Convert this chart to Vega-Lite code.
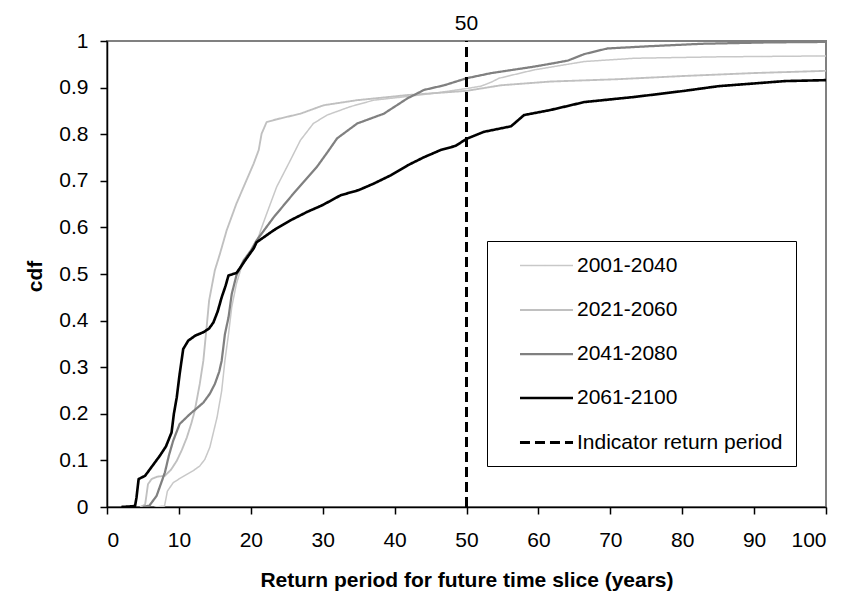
{
  "$schema": "https://vega.github.io/schema/vega-lite/v6.json",
  "description": "CDF of return period for future time slices",
  "autosize": {"type": "none"},
  "padding": {"left": 107, "top": 41, "right": 19, "bottom": 94},
  "width": 719,
  "height": 466,
  "background": "white",
  "config": {
    "font": "Liberation Sans",
    "view": {"stroke": "#808080", "strokeWidth": 2},
    "axis": {
      "grid": false,
      "domainColor": "black",
      "domainWidth": 1.5,
      "tickColor": "black",
      "tickWidth": 1.5,
      "tickSize": 7,
      "labelFontSize": 21,
      "labelColor": "black",
      "titleFontSize": 21,
      "titleFontWeight": "bold",
      "titleColor": "black"
    },
    "legend": {
      "orient": "none",
      "legendX": 380,
      "legendY": 200,
      "strokeColor": "black",
      "fillColor": "white",
      "padding": 13,
      "symbolType": "M-2.5,0H2.5",
      "symbolSize": 450,
      "symbolOffset": 34,
      "labelOffset": 18,
      "labelFontSize": 21,
      "labelColor": "black",
      "labelLimit": 400,
      "rowPadding": 22
    }
  },
  "encoding": {
    "x": {
      "field": "x",
      "type": "quantitative",
      "scale": {"domain": [0, 100], "nice": false},
      "axis": {
        "values": [0, 10, 20, 30, 40, 50, 60, 70, 80, 90, 100],
        "labelPadding": 15,
        "title": "Return period for future time slice (years)",
        "titleY": 79,
        "titleBaseline": "alphabetic"
      }
    },
    "y": {
      "field": "y",
      "type": "quantitative",
      "scale": {"domain": [0, 1], "nice": false},
      "axis": {
        "values": [0, 0.1, 0.2, 0.3, 0.4, 0.5, 0.6, 0.7, 0.8, 0.9, 1],
        "format": "~g",
        "labelPadding": 12,
        "title": "cdf",
        "titleX": -66,
        "titleY": 235,
        "titleBaseline": "alphabetic"
      }
    }
  },
  "layer": [
    {
      "data": {
        "values": [
          {"s": "2001-2040", "x": 6.6, "y": 0},
          {"s": "2001-2040", "x": 8.0, "y": 0.002},
          {"s": "2001-2040", "x": 8.4, "y": 0.034},
          {"s": "2001-2040", "x": 9.2, "y": 0.052},
          {"s": "2001-2040", "x": 10.2, "y": 0.062},
          {"s": "2001-2040", "x": 11.1, "y": 0.07},
          {"s": "2001-2040", "x": 12.0, "y": 0.078},
          {"s": "2001-2040", "x": 12.9, "y": 0.088},
          {"s": "2001-2040", "x": 13.6, "y": 0.102},
          {"s": "2001-2040", "x": 14.3, "y": 0.128},
          {"s": "2001-2040", "x": 14.8, "y": 0.16},
          {"s": "2001-2040", "x": 15.3, "y": 0.192},
          {"s": "2001-2040", "x": 15.95, "y": 0.249},
          {"s": "2001-2040", "x": 16.4, "y": 0.314},
          {"s": "2001-2040", "x": 16.9, "y": 0.371},
          {"s": "2001-2040", "x": 17.35, "y": 0.429},
          {"s": "2001-2040", "x": 18.0, "y": 0.479},
          {"s": "2001-2040", "x": 18.7, "y": 0.515},
          {"s": "2001-2040", "x": 19.5, "y": 0.535},
          {"s": "2001-2040", "x": 20.6, "y": 0.558},
          {"s": "2001-2040", "x": 21.4, "y": 0.595},
          {"s": "2001-2040", "x": 22.2, "y": 0.629},
          {"s": "2001-2040", "x": 23.6, "y": 0.687},
          {"s": "2001-2040", "x": 25.5, "y": 0.744},
          {"s": "2001-2040", "x": 26.9, "y": 0.787},
          {"s": "2001-2040", "x": 28.7, "y": 0.823},
          {"s": "2001-2040", "x": 30.6, "y": 0.841},
          {"s": "2001-2040", "x": 33.8, "y": 0.859},
          {"s": "2001-2040", "x": 37.1, "y": 0.873},
          {"s": "2001-2040", "x": 41.8, "y": 0.881},
          {"s": "2001-2040", "x": 46.0, "y": 0.889},
          {"s": "2001-2040", "x": 50.0, "y": 0.898},
          {"s": "2001-2040", "x": 52.0, "y": 0.903},
          {"s": "2001-2040", "x": 53.5, "y": 0.912},
          {"s": "2001-2040", "x": 54.5, "y": 0.92},
          {"s": "2001-2040", "x": 59.4, "y": 0.938},
          {"s": "2001-2040", "x": 66.4, "y": 0.956},
          {"s": "2001-2040", "x": 73.4, "y": 0.963},
          {"s": "2001-2040", "x": 85.0, "y": 0.966},
          {"s": "2001-2040", "x": 100, "y": 0.968},

          {"s": "2021-2060", "x": 4.6, "y": 0},
          {"s": "2021-2060", "x": 5.3, "y": 0.005},
          {"s": "2021-2060", "x": 5.7, "y": 0.049},
          {"s": "2021-2060", "x": 6.2, "y": 0.06},
          {"s": "2021-2060", "x": 7.0, "y": 0.065},
          {"s": "2021-2060", "x": 8.05, "y": 0.067},
          {"s": "2021-2060", "x": 8.9, "y": 0.08},
          {"s": "2021-2060", "x": 9.7, "y": 0.099},
          {"s": "2021-2060", "x": 10.4, "y": 0.122},
          {"s": "2021-2060", "x": 11.1, "y": 0.149},
          {"s": "2021-2060", "x": 11.7, "y": 0.178},
          {"s": "2021-2060", "x": 12.2, "y": 0.206},
          {"s": "2021-2060", "x": 12.9, "y": 0.264},
          {"s": "2021-2060", "x": 13.4, "y": 0.314},
          {"s": "2021-2060", "x": 13.9, "y": 0.393},
          {"s": "2021-2060", "x": 14.2, "y": 0.443},
          {"s": "2021-2060", "x": 15.0, "y": 0.508},
          {"s": "2021-2060", "x": 15.7, "y": 0.543},
          {"s": "2021-2060", "x": 16.65, "y": 0.594},
          {"s": "2021-2060", "x": 18.0, "y": 0.651},
          {"s": "2021-2060", "x": 19.2, "y": 0.694},
          {"s": "2021-2060", "x": 20.4, "y": 0.737},
          {"s": "2021-2060", "x": 21.1, "y": 0.766},
          {"s": "2021-2060", "x": 21.5, "y": 0.801},
          {"s": "2021-2060", "x": 22.2, "y": 0.826},
          {"s": "2021-2060", "x": 23.6, "y": 0.832},
          {"s": "2021-2060", "x": 26.9, "y": 0.844},
          {"s": "2021-2060", "x": 30.1, "y": 0.862},
          {"s": "2021-2060", "x": 34.8, "y": 0.873},
          {"s": "2021-2060", "x": 41.8, "y": 0.884},
          {"s": "2021-2060", "x": 50.0, "y": 0.893},
          {"s": "2021-2060", "x": 54.8, "y": 0.905},
          {"s": "2021-2060", "x": 61.7, "y": 0.913},
          {"s": "2021-2060", "x": 71.0, "y": 0.918},
          {"s": "2021-2060", "x": 80.3, "y": 0.925},
          {"s": "2021-2060", "x": 89.6, "y": 0.931},
          {"s": "2021-2060", "x": 100, "y": 0.936},

          {"s": "2041-2080", "x": 5.0, "y": 0},
          {"s": "2041-2080", "x": 5.9, "y": 0.003},
          {"s": "2041-2080", "x": 6.9, "y": 0.024},
          {"s": "2041-2080", "x": 7.5, "y": 0.05},
          {"s": "2041-2080", "x": 8.05, "y": 0.074},
          {"s": "2041-2080", "x": 8.6, "y": 0.11},
          {"s": "2041-2080", "x": 9.2, "y": 0.142},
          {"s": "2041-2080", "x": 10.1, "y": 0.178},
          {"s": "2041-2080", "x": 11.5, "y": 0.199},
          {"s": "2041-2080", "x": 12.5, "y": 0.212},
          {"s": "2041-2080", "x": 13.4, "y": 0.224},
          {"s": "2041-2080", "x": 14.3, "y": 0.243},
          {"s": "2041-2080", "x": 15.0, "y": 0.264},
          {"s": "2041-2080", "x": 15.6, "y": 0.29},
          {"s": "2041-2080", "x": 15.95, "y": 0.314},
          {"s": "2041-2080", "x": 16.4, "y": 0.371},
          {"s": "2041-2080", "x": 16.9, "y": 0.407},
          {"s": "2041-2080", "x": 17.35, "y": 0.457},
          {"s": "2041-2080", "x": 18.0, "y": 0.497},
          {"s": "2041-2080", "x": 19.0, "y": 0.529},
          {"s": "2041-2080", "x": 20.0, "y": 0.55},
          {"s": "2041-2080", "x": 20.8, "y": 0.572},
          {"s": "2041-2080", "x": 23.2, "y": 0.622},
          {"s": "2041-2080", "x": 25.9, "y": 0.672},
          {"s": "2041-2080", "x": 29.2, "y": 0.73},
          {"s": "2041-2080", "x": 30.6, "y": 0.76},
          {"s": "2041-2080", "x": 32.0, "y": 0.791},
          {"s": "2041-2080", "x": 34.8, "y": 0.823},
          {"s": "2041-2080", "x": 38.5, "y": 0.844},
          {"s": "2041-2080", "x": 41.8, "y": 0.877},
          {"s": "2041-2080", "x": 44.1, "y": 0.895},
          {"s": "2041-2080", "x": 46.9, "y": 0.905},
          {"s": "2041-2080", "x": 50.0, "y": 0.92},
          {"s": "2041-2080", "x": 53.4, "y": 0.931},
          {"s": "2041-2080", "x": 59.4, "y": 0.945},
          {"s": "2041-2080", "x": 62.0, "y": 0.952},
          {"s": "2041-2080", "x": 64.1, "y": 0.958},
          {"s": "2041-2080", "x": 66.4, "y": 0.972},
          {"s": "2041-2080", "x": 69.6, "y": 0.984},
          {"s": "2041-2080", "x": 75.7, "y": 0.989},
          {"s": "2041-2080", "x": 82.7, "y": 0.994},
          {"s": "2041-2080", "x": 92.0, "y": 0.997},
          {"s": "2041-2080", "x": 100, "y": 0.998},

          {"s": "2061-2100", "x": 2.0, "y": 0},
          {"s": "2061-2100", "x": 3.9, "y": 0.002},
          {"s": "2061-2100", "x": 4.1, "y": 0.02},
          {"s": "2061-2100", "x": 4.4, "y": 0.06},
          {"s": "2061-2100", "x": 5.3, "y": 0.067},
          {"s": "2061-2100", "x": 6.3, "y": 0.088},
          {"s": "2061-2100", "x": 7.35, "y": 0.11},
          {"s": "2061-2100", "x": 8.2, "y": 0.13},
          {"s": "2061-2100", "x": 8.98, "y": 0.16},
          {"s": "2061-2100", "x": 9.3, "y": 0.2},
          {"s": "2061-2100", "x": 9.7, "y": 0.235},
          {"s": "2061-2100", "x": 10.1, "y": 0.285},
          {"s": "2061-2100", "x": 10.6, "y": 0.339},
          {"s": "2061-2100", "x": 11.3, "y": 0.357},
          {"s": "2061-2100", "x": 12.3, "y": 0.368},
          {"s": "2061-2100", "x": 13.4, "y": 0.375},
          {"s": "2061-2100", "x": 14.2, "y": 0.383},
          {"s": "2061-2100", "x": 14.8, "y": 0.396},
          {"s": "2061-2100", "x": 15.4, "y": 0.42},
          {"s": "2061-2100", "x": 15.95, "y": 0.45},
          {"s": "2061-2100", "x": 16.5, "y": 0.475},
          {"s": "2061-2100", "x": 16.9, "y": 0.497},
          {"s": "2061-2100", "x": 18.0, "y": 0.502},
          {"s": "2061-2100", "x": 18.6, "y": 0.515},
          {"s": "2061-2100", "x": 19.2, "y": 0.529},
          {"s": "2061-2100", "x": 20.4, "y": 0.555},
          {"s": "2061-2100", "x": 20.8, "y": 0.568},
          {"s": "2061-2100", "x": 23.2, "y": 0.594},
          {"s": "2061-2100", "x": 25.5, "y": 0.615},
          {"s": "2061-2100", "x": 27.8, "y": 0.633},
          {"s": "2061-2100", "x": 30.0, "y": 0.648},
          {"s": "2061-2100", "x": 32.5, "y": 0.669},
          {"s": "2061-2100", "x": 35.0, "y": 0.68},
          {"s": "2061-2100", "x": 37.1, "y": 0.694},
          {"s": "2061-2100", "x": 39.5, "y": 0.712},
          {"s": "2061-2100", "x": 41.8, "y": 0.733},
          {"s": "2061-2100", "x": 44.0, "y": 0.75},
          {"s": "2061-2100", "x": 46.4, "y": 0.766},
          {"s": "2061-2100", "x": 48.5, "y": 0.775},
          {"s": "2061-2100", "x": 50.0, "y": 0.79},
          {"s": "2061-2100", "x": 52.4, "y": 0.805},
          {"s": "2061-2100", "x": 56.2, "y": 0.817},
          {"s": "2061-2100", "x": 58.0, "y": 0.841},
          {"s": "2061-2100", "x": 61.7, "y": 0.852},
          {"s": "2061-2100", "x": 66.4, "y": 0.869},
          {"s": "2061-2100", "x": 73.4, "y": 0.88},
          {"s": "2061-2100", "x": 80.3, "y": 0.893},
          {"s": "2061-2100", "x": 85.0, "y": 0.903},
          {"s": "2061-2100", "x": 94.3, "y": 0.914},
          {"s": "2061-2100", "x": 100, "y": 0.916}
        ]
      },
      "mark": {"type": "line", "strokeJoin": "round", "clip": true},
      "encoding": {
        "color": {
          "field": "s",
          "type": "nominal",
          "title": null,
          "scale": {
            "domain": ["2001-2040", "2021-2060", "2041-2080", "2061-2100", "Indicator return period"],
            "range": ["#c8c8c8", "#c0c0c0", "#808080", "#000000", "#000000"]
          }
        },
        "strokeWidth": {
          "field": "s",
          "type": "nominal",
          "title": null,
          "scale": {
            "domain": ["2001-2040", "2021-2060", "2041-2080", "2061-2100", "Indicator return period"],
            "range": [1.5, 3, 3, 3, 2]
          }
        },
        "strokeDash": {
          "field": "s",
          "type": "nominal",
          "title": null,
          "scale": {
            "domain": ["2001-2040", "2021-2060", "2041-2080", "2061-2100", "Indicator return period"],
            "range": [[1, 0], [1, 0], [1, 0], [1, 0], [10, 5]]
          }
        }
      }
    },
    {
      "data": {"values": [{"x": 50, "y": 0, "y2": 1, "s": "Indicator return period"}]},
      "mark": "rule",
      "encoding": {
        "y2": {"field": "y2"},
        "color": {"field": "s", "type": "nominal", "title": null},
        "strokeWidth": {"field": "s", "type": "nominal", "title": null},
        "strokeDash": {"field": "s", "type": "nominal", "title": null}
      }
    },
    {
      "data": {"values": [{"x": 50, "y": 1, "label": "50"}]},
      "mark": {"type": "text", "baseline": "alphabetic", "align": "center", "dy": -11, "fontSize": 21, "color": "black"},
      "encoding": {
        "text": {"field": "label"}
      }
    }
  ]
}
